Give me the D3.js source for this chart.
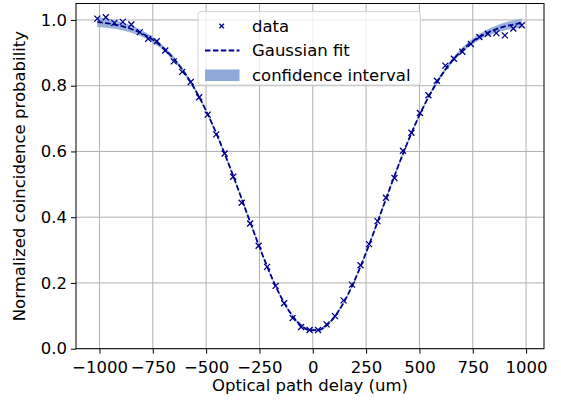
<!DOCTYPE html>
<html><head><meta charset="utf-8">
<script src="https://cdn.jsdelivr.net/npm/d3@7"></script>
<style>body{margin:0;background:#fff}svg{display:block;font-family:"DejaVu Sans",sans-serif}</style>
</head><body><svg id="c" width="561" height="402"></svg>
<script>
// Data
const delays = [-1010,-970.2,-930.4,-890.6,-850.8,-811,-771.2,-731.4,-691.6,-651.8,-612,-572.2,-532.4,-492.6,-452.8,-413,-373.2,-333.4,-293.6,-253.8,-214,-174.2,-134.4,-94.6,-54.8,-15,24.8,64.6,104.4,144.2,184,223.8,263.6,303.4,343.2,383,422.8,462.6,502.4,542.2,582,621.8,661.6,701.4,741.2,781,820.8,860.6,900.4,940.2,980];
const probs = [1.004,1.008,0.991,0.994,0.986,0.963,0.943,0.935,0.907,0.874,0.842,0.811,0.765,0.712,0.652,0.594,0.523,0.444,0.381,0.313,0.249,0.191,0.138,0.093,0.066,0.057,0.057,0.074,0.099,0.147,0.195,0.254,0.318,0.388,0.459,0.519,0.602,0.657,0.717,0.771,0.815,0.861,0.882,0.903,0.927,0.948,0.958,0.960,0.953,0.974,0.984];
const fitValues = [0.9934,0.9904,0.9861,0.9802,0.9724,0.9619,0.9483,0.9309,0.9090,0.8819,0.8494,0.8104,0.7653,0.7137,0.6560,0.5931,0.5259,0.4560,0.3853,0.3158,0.2502,0.1906,0.1396,0.0991,0.0711,0.0568,0.0568,0.0710,0.0989,0.1393,0.1903,0.2499,0.3155,0.3849,0.4556,0.5255,0.5928,0.6557,0.7134,0.7650,0.8102,0.8491,0.8818,0.9088,0.9307,0.9482,0.9618,0.9723,0.9802,0.9861,0.9904];
const ciHalfWidth = [0.015,0.014,0.013,0.012,0.011,0.010,0.009,0.008,0.007,0.007,0.006,0.006,0.005,0.005,0.005,0.005,0.005,0.005,0.004,0.004,0.004,0.004,0.004,0.004,0.004,0.004,0.004,0.004,0.004,0.004,0.004,0.004,0.004,0.005,0.005,0.005,0.005,0.005,0.005,0.005,0.006,0.006,0.007,0.007,0.008,0.009,0.010,0.011,0.012,0.013,0.014];
const xTicks = [-1000,-750,-500,-250,0,250,500,750,1000];
const yTicks = [0.0,0.2,0.4,0.6,0.8,1.0];
const legendLabels = ["data","Gaussian fit","confidence interval"];

const svg = d3.select("#c");
const L=76, R=544, T=3.5, B=348.7;
const x = d3.scaleLinear().domain([-1110,1084]).range([L,R]);
const y = d3.scaleLinear().domain([0,1.05]).range([B,T]);
const FS = "16.5px";
const navy = "#00008b";
const bandColor = "#8eaad8";

// grid
svg.append("g").selectAll("line").data(xTicks).join("line")
  .attr("x1",d=>x(d)).attr("x2",d=>x(d)).attr("y1",T).attr("y2",B)
  .attr("stroke","#b0b0b0").attr("stroke-width",1);
svg.append("g").selectAll("line").data(yTicks).join("line")
  .attr("x1",L).attr("x2",R).attr("y1",d=>y(d)).attr("y2",d=>y(d))
  .attr("stroke","#b0b0b0").attr("stroke-width",1);

const pts = delays.map((d,i)=>({x:d,y:probs[i],f:fitValues[i],h:ciHalfWidth[i]}));
svg.append("clipPath").attr("id","clp").append("rect").attr("x",L).attr("y",T).attr("width",R-L).attr("height",B-T);
const plot = svg.append("g").attr("clip-path","url(#clp)");

plot.append("path").datum(pts)
  .attr("d", d3.area().x(d=>x(d.x)).y0(d=>y(d.f-d.h)).y1(d=>y(d.f+d.h)).curve(d3.curveMonotoneX))
  .attr("fill",bandColor).attr("fill-opacity",0.9);

plot.append("path").datum(pts)
  .attr("d", d3.line().x(d=>x(d.x)).y(d=>y(d.f)).curve(d3.curveMonotoneX))
  .attr("fill","none").attr("stroke",navy).attr("stroke-width",1.8).attr("stroke-dasharray","5.5,2.4");

const ms = 3;
plot.append("g").selectAll("path").data(pts).join("path")
  .attr("d", d=>{const cx=x(d.x), cy=y(d.y); return `M${cx-ms},${cy-ms}L${cx+ms},${cy+ms}M${cx-ms},${cy+ms}L${cx+ms},${cy-ms}`;})
  .attr("stroke",navy).attr("stroke-width",1.3).attr("fill","none");

// axes
const xa = svg.append("g").attr("transform",`translate(0,${B})`)
  .call(d3.axisBottom(x).tickValues(xTicks).tickSize(5).tickPadding(4).tickFormat(d=>d3.format("d")(d).replace("-","\u2212")));
const ya = svg.append("g").attr("transform",`translate(${L},0)`)
  .call(d3.axisLeft(y).tickValues(yTicks).tickSize(5).tickPadding(4).tickFormat(d3.format(".1f")));
[xa,ya].forEach(a=>{a.select(".domain").remove();
  a.selectAll("text").attr("font-size",FS).attr("font-family","DejaVu Sans").attr("fill","#000");
  a.selectAll("line").attr("stroke","#000").attr("stroke-width",1);});
xa.selectAll("text").attr("dy","0.93em");

// spines
svg.append("rect").attr("x",L).attr("y",T).attr("width",R-L).attr("height",B-T)
  .attr("fill","none").attr("stroke","#000").attr("stroke-width",1);

// labels
svg.append("text").attr("x",(L+R)/2).attr("y",391).attr("text-anchor","middle")
  .attr("font-size",FS).text("Optical path delay (um)");
svg.append("text").attr("transform",`translate(25,${(T+B)/2}) rotate(-90)`).attr("text-anchor","middle")
  .attr("font-size",FS).text("Normalized coincidence probability");

// legend
const lg = svg.append("g");
lg.append("rect").attr("x",198).attr("y",11.5).attr("width",222.5).attr("height",73.5).attr("rx",3)
  .attr("fill","#fff").attr("fill-opacity",0.8).attr("stroke","#d6d6d6").attr("stroke-width",1);
const lx = 221.7, lm = 2.3;
lg.append("path").attr("d",`M${lx-lm},${26-lm}L${lx+lm},${26+lm}M${lx-lm},${26+lm}L${lx+lm},${26-lm}`)
  .attr("stroke",navy).attr("stroke-width",1.3);
lg.append("line").attr("x1",205).attr("x2",239.5).attr("y1",50.5).attr("y2",50.5)
  .attr("stroke",navy).attr("stroke-width",1.8).attr("stroke-dasharray","5.5,2.4");
lg.append("rect").attr("x",205).attr("y",69.5).attr("width",34.5).attr("height",11.5).attr("fill",bandColor);
const ly=[26,50.5,75.5];
lg.selectAll("text.l").data(legendLabels).join("text").attr("class","l")
  .attr("x",252).attr("y",(d,i)=>ly[i]).attr("dy","0.35em").attr("font-size",FS).text(d=>d);
</script></body></html>
